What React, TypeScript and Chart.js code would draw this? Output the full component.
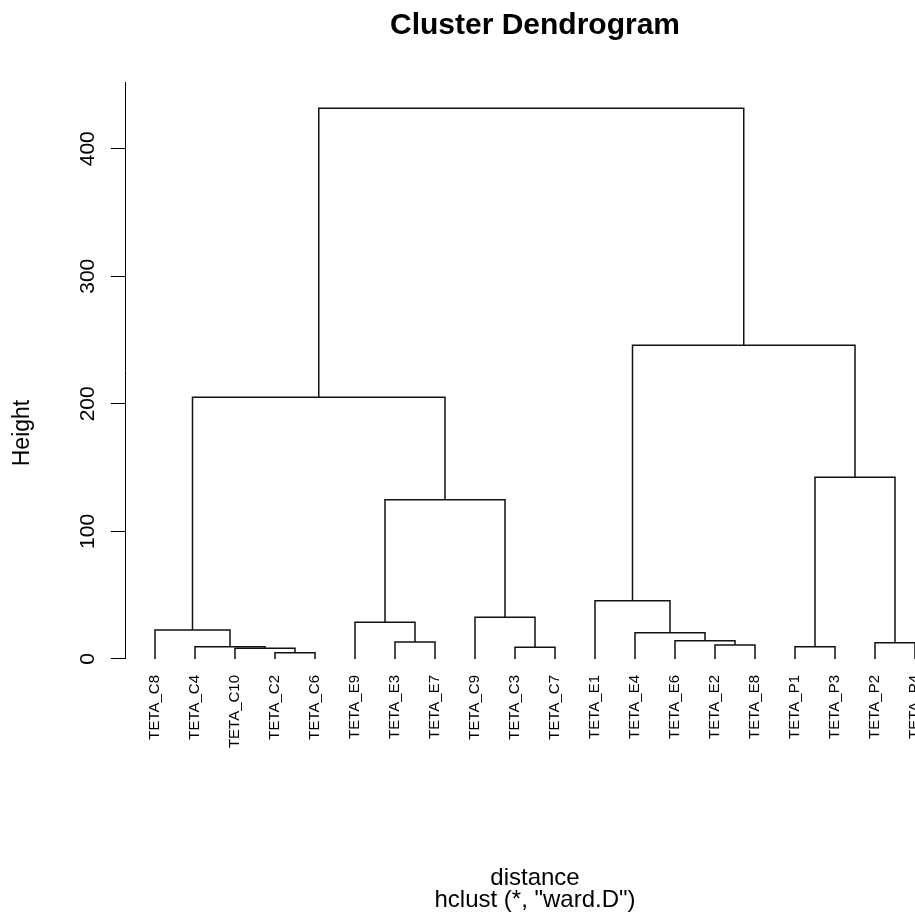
import React, { useEffect, useRef } from "react";
import { Chart, registerables } from "chart.js";

Chart.register(...registerables);

// Leaves in plotted order (left to right)
const leafLabels = [
  "TETA_C8", "TETA_C4", "TETA_C10", "TETA_C2", "TETA_C6",
  "TETA_E9", "TETA_E3", "TETA_E7", "TETA_C9", "TETA_C3",
  "TETA_C7", "TETA_E1", "TETA_E4", "TETA_E6", "TETA_E2",
  "TETA_E8", "TETA_P1", "TETA_P3", "TETA_P2", "TETA_P4",
];

// R-style merge table: negative = leaf (1-based position), positive = earlier merge step
const mergeLeft = [-4, -3, -10, -2, -17, -15, -19, -7, -14, -13, -1, -6, -9, -12, 12, 5, 11, 14, 17];
const mergeRight = [-5, 1, -11, 2, -18, -16, -20, -8, 6, 9, 4, 8, 3, 10, 13, 7, 15, 16, 18];
const mergeHeight = [4.9, 8.4, 9.2, 9.6, 9.6, 11.0, 12.8, 13.3, 14.3, 20.6, 22.7, 28.8, 32.7, 45.7, 124.9, 142.4, 205.1, 245.9, 431.7];

const yTicks = [0, 100, 200, 300, 400];
const titleText = "Cluster Dendrogram";
const yTitleText = "Height";
const xTitleLines = ["distance", 'hclust (*, "ward.D")'];

const FONT = "'Liberation Sans', Arial, Helvetica, sans-serif";

function buildDatasets() {
  const pos: number[] = [];
  const hts: number[] = [];
  const coord = (c: number) => (c < 0 ? { x: -c, y: 0 } : { x: pos[c - 1], y: hts[c - 1] });
  const datasets: any[] = [];
  for (let i = 0; i < mergeHeight.length; i++) {
    const a = coord(mergeLeft[i]);
    const b = coord(mergeRight[i]);
    const h = mergeHeight[i];
    pos.push((a.x + b.x) / 2);
    hts.push(h);
    datasets.push({
      data: [
        { x: a.x, y: a.y },
        { x: a.x, y: h },
        { x: b.x, y: h },
        { x: b.x, y: b.y },
      ],
      showLine: true,
      borderColor: "#111",
      borderWidth: 1.5,
      pointRadius: 0,
      tension: 0,
      fill: false,
    });
  }
  return datasets;
}

const yAxisLine = {
  id: "yAxisLine",
  afterDraw(chart: any) {
    const ys = chart.scales.y;
    const ctx = chart.ctx;
    const x = Math.round(chart.chartArea.left) + 0.5;
    ctx.save();
    ctx.strokeStyle = "#000";
    ctx.lineWidth = 1;
    ctx.beginPath();
    ctx.moveTo(x, ys.getPixelForValue(yTicks[0]));
    ctx.lineTo(x, chart.chartArea.top);
    ctx.stroke();
    ctx.restore();
  },
};

export default function App() {
  const ref = useRef<HTMLCanvasElement | null>(null);
  useEffect(() => {
    if (!ref.current) return;
    Chart.defaults.font.family = FONT;
    Chart.defaults.color = "#000";
    const chart = new Chart(ref.current, {
      type: "scatter",
      data: { datasets: buildDatasets() },
      plugins: [yAxisLine],
      options: {
        responsive: false,
        animation: false,
        devicePixelRatio: 1,
        events: [],
        layout: { padding: { left: 0, right: 15, top: 0, bottom: 0 } },
        plugins: {
          legend: { display: false },
          tooltip: { enabled: false },
          title: {
            display: true,
            text: titleText,
            fullSize: false,
            color: "#000",
            font: { size: 30, weight: "bold", family: FONT, lineHeight: "36px" },
            padding: { top: 8, bottom: 38 },
          },
          subtitle: {
            display: true,
            position: "bottom",
            text: xTitleLines,
            fullSize: false,
            color: "#000",
            font: { size: 24, family: FONT, lineHeight: "22px" },
            padding: { top: 83, bottom: 11 },
          },
        },
        scales: {
          x: {
            type: "linear",
            position: { y: 0 } as any,
            min: 0.25,
            max: 20.75,
            grid: { display: false, drawTicks: false },
            border: { display: false },
            afterBuildTicks: (scale: any) => {
              scale.ticks = leafLabels.map((_, i) => ({ value: i + 1 }));
            },
            ticks: {
              autoSkip: false,
              minRotation: 90,
              maxRotation: 90,
              padding: 16,
              color: "#000",
              font: { size: 15, family: FONT },
              callback: (v: any) => leafLabels[Math.round(Number(v)) - 1] ?? "",
            },
          },
          y: {
            type: "linear",
            position: "left",
            min: -98.0,
            max: 452.3,
            afterBuildTicks: (scale: any) => {
              scale.ticks = yTicks.map((v) => ({ value: v }));
            },
            afterFit: (scale: any) => {
              scale.width = 125;
            },
            grid: {
              display: true,
              drawOnChartArea: false,
              drawTicks: true,
              tickLength: 14,
              color: "#000",
              lineWidth: 1,
            },
            border: { display: false },
            ticks: {
              minRotation: 90,
              maxRotation: 90,
              crossAlign: "center",
              padding: 5.5,
              color: "#000",
              font: { size: 21, family: FONT },
              callback: (v: any) => String(v),
            },
            title: {
              display: true,
              text: yTitleText,
              color: "#000",
              font: { size: 23, family: FONT, lineHeight: 1.2 },
              padding: { top: 9, bottom: 0 },
            },
          },
        },
      } as any,
    });
    return () => chart.destroy();
  }, []);

  return (
    <div
      style={{
        position: "absolute",
        left: 0,
        top: 0,
        width: 915,
        height: 922,
        overflow: "hidden",
        background: "#fff",
      }}
    >
      <canvas ref={ref} width={960} height={922} style={{ display: "block", width: 960, height: 922 }} />
    </div>
  );
}
